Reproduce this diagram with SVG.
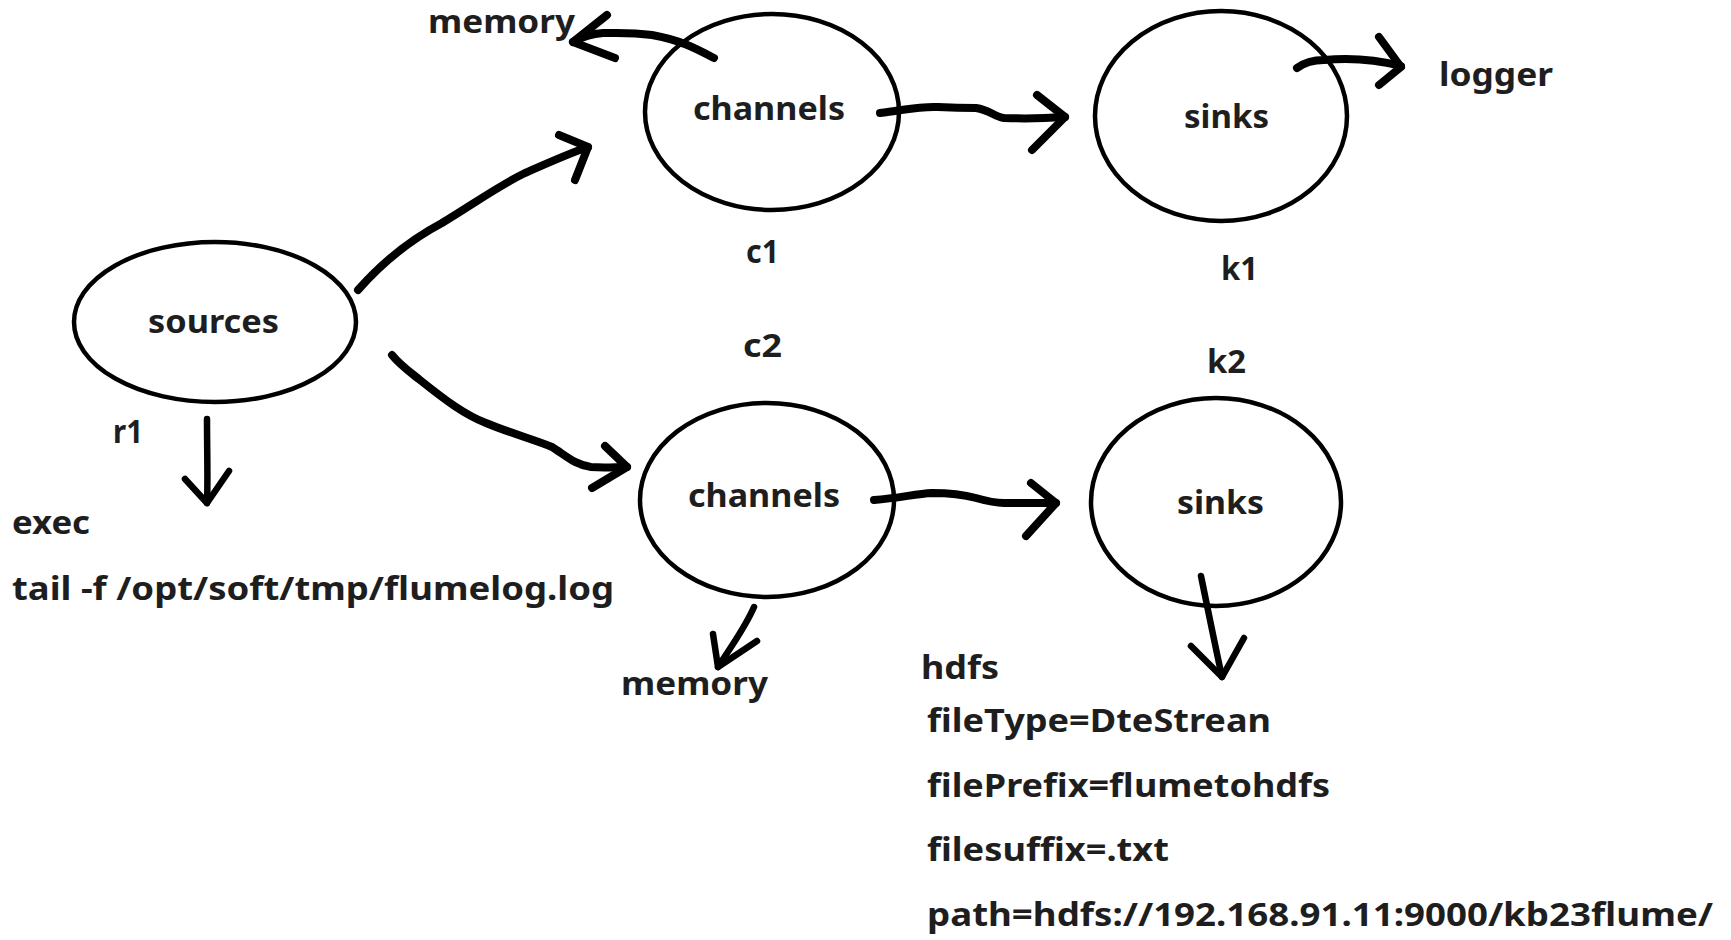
<svg xmlns="http://www.w3.org/2000/svg" width="1731" height="940" viewBox="0 0 1731 940">
<style>
.node{fill:none;stroke:#000;stroke-width:4.5}
.t{font-family:"Noto Sans","Open Sans","Liberation Sans",sans-serif;font-weight:700;font-size:33px;fill:#1e1e1e}
.c{fill:none;stroke:#000;stroke-width:8;stroke-linecap:round;stroke-linejoin:round}
.cs{fill:none;stroke:#000;stroke-width:6.5;stroke-linecap:round;stroke-linejoin:round}
</style>
<rect width="1731" height="940" fill="#fff"/>
<g id="sources">
<ellipse class="node" cx="215" cy="322" rx="141" ry="80"/>
<text class="t" x="148" y="333" textLength="131" lengthAdjust="spacingAndGlyphs">sources</text>
<text class="t" x="113" y="443" textLength="30" lengthAdjust="spacingAndGlyphs">r1</text>
<text class="t" x="12" y="534" textLength="78" lengthAdjust="spacingAndGlyphs">exec</text>
<text class="t" x="12" y="600" textLength="602" lengthAdjust="spacingAndGlyphs">tail -f /opt/soft/tmp/flumelog.log</text>
</g>
<g id="channels1">
<ellipse class="node" cx="772" cy="112" rx="127" ry="98"/>
<text class="t" x="693" y="120" textLength="152" lengthAdjust="spacingAndGlyphs">channels</text>
<text class="t" x="746" y="263" textLength="33" lengthAdjust="spacingAndGlyphs">c1</text>
<text class="t" x="428" y="33" textLength="147" lengthAdjust="spacingAndGlyphs">memory</text>
</g>
<g id="sinks1">
<ellipse class="node" cx="1221" cy="116" rx="126" ry="105"/>
<text class="t" x="1184" y="128" textLength="85" lengthAdjust="spacingAndGlyphs">sinks</text>
<text class="t" x="1221" y="280" textLength="37" lengthAdjust="spacingAndGlyphs">k1</text>
<text class="t" x="1439" y="86" textLength="114" lengthAdjust="spacingAndGlyphs">logger</text>
</g>
<g id="channels2">
<ellipse class="node" cx="767" cy="500" rx="127" ry="97"/>
<text class="t" x="688" y="507" textLength="152" lengthAdjust="spacingAndGlyphs">channels</text>
<text class="t" x="743" y="357" textLength="39" lengthAdjust="spacingAndGlyphs">c2</text>
<text class="t" x="621" y="695" textLength="147" lengthAdjust="spacingAndGlyphs">memory</text>
</g>
<g id="sinks2">
<ellipse class="node" cx="1216" cy="502" rx="125" ry="104"/>
<text class="t" x="1177" y="514" textLength="87" lengthAdjust="spacingAndGlyphs">sinks</text>
<text class="t" x="1207" y="373" textLength="39" lengthAdjust="spacingAndGlyphs">k2</text>
<text class="t" x="921" y="679" textLength="78" lengthAdjust="spacingAndGlyphs">hdfs</text>
<text class="t" x="927" y="732" textLength="344" lengthAdjust="spacingAndGlyphs">fileType=DteStrean</text>
<text class="t" x="927" y="797" textLength="403" lengthAdjust="spacingAndGlyphs">filePrefix=flumetohdfs</text>
<text class="t" x="927" y="861" textLength="242" lengthAdjust="spacingAndGlyphs">filesuffix=.txt</text>
<text class="t" x="927" y="926" textLength="786" lengthAdjust="spacingAndGlyphs">path=hdfs://192.168.91.11:9000/kb23flume/</text>
</g>
<g id="connectors">
<path class="c" d="M358,290 C380,265 410,240 442,223 C475,203 500,185 525,173 C550,162 570,153 588,147"/>
<path class="c" d="M559,135 L588,147 L575,180"/>
<path class="c" d="M714,58 C695,48 680,40 652,35 C630,32 615,33 603,33 C590,34 580,38 573,42"/>
<path class="c" d="M607,15 L573,42 L615,58"/>
<path class="c" d="M880,113 C905,110 920,106 938,107 C958,108 966,108 976,108 C990,110 995,117 1004,118 C1030,119 1050,118 1065,117"/>
<path class="c" d="M1037,95 L1065,117 L1032,150"/>
<path class="c" d="M1297,68 C1305,62 1315,60 1324,60 C1345,58 1370,58 1401,66"/>
<path class="c" d="M1379,37 L1401,67 L1379,85"/>
<path class="c" d="M392,355 C400,365 410,372 420,380 C445,400 465,415 486,423 C510,433 535,440 552,447 C565,455 575,465 591,467 C605,468 615,467 627,467"/>
<path class="c" d="M605,446 L627,467 L592,488"/>
<path class="cs" d="M754,607 C745,628 730,648 718,667"/>
<path class="cs" d="M713,634 L718,667 L757,641"/>
<path class="c" d="M874,500 C900,498 915,494 932,493 C955,493 965,495 976,498 C990,502 995,503 1004,503 C1025,503 1040,503 1056,503"/>
<path class="c" d="M1031,483 L1056,503 L1026,536"/>
<path class="cs" d="M1201,576 C1208,610 1215,645 1222,677"/>
<path class="cs" d="M1191,646 L1222,677 L1244,638"/>
<path class="cs" d="M207,419 C207,450 208,480 207,503"/>
<path class="cs" d="M185,479 L207,503 L229,471"/>
</g>
</svg>
